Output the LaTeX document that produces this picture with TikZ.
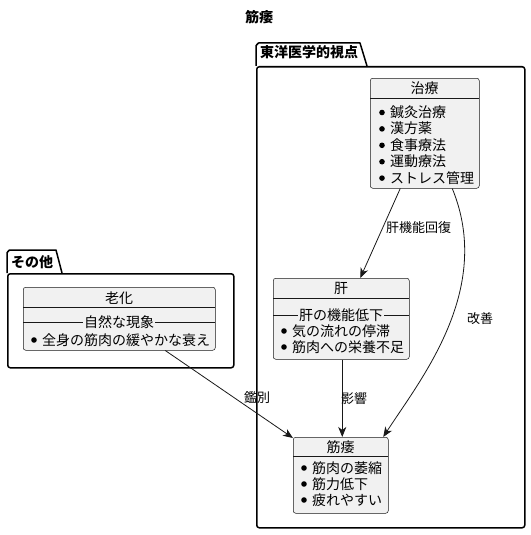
\documentclass[tikz,border=0pt]{standalone}
\usepackage{fontspec}
\setmainfont{Noto Sans CJK JP}
\usetikzlibrary{arrows.meta}
\definecolor{boxfill}{HTML}{F1F1F1}
\definecolor{boxline}{HTML}{181818}
\tikzset{
  cls/.style={draw=boxline, line width=0.5pt, fill=boxfill, rounded corners=2.5pt, inner sep=0pt, anchor=north west},
  pkg/.style={draw=black, line width=1.5pt, rounded corners=2.5pt, inner sep=0pt, anchor=north west},
  txt/.style={inner sep=0pt, font=\fontsize{14}{16}\selectfont},
  lbl/.style={inner sep=0pt, font=\fontsize{13}{15}\selectfont},
  ttl/.style={inner sep=0pt, font=\fontsize{14}{16}\selectfont\bfseries},
  arr/.style={draw=boxline, line width=0.8pt, -{Stealth[length=10pt,width=8pt,inset=3pt]}},
  sepl/.style={draw=boxline, line width=0.5pt},
  bul/.style={fill=black}
}
\newcommand\itm[4]{% name, x, y-center, text
  \fill[bul] (#2-8,#3) circle (2.8);
  \node[txt, anchor=base west] (#1) at (#2,#3+5) {#4};
}
\begin{document}
\begin{tikzpicture}[x=1pt,y=-1pt]
\useasboundingbox (0,0) rectangle (530,535);
% title
\node[ttl, anchor=base] (title) at (259,23) {筋痿};

% package 東洋医学的視点
\draw[line width=1.5pt, line join=round] (256,66) -- (256,45.5) to[out=-90,in=180] (258.5,43) -- (360,43) -- (367,66);
\node[pkg, minimum width=268pt, minimum height=461pt] (toyo) at (256,66) {};
\node[ttl, anchor=base west] (toyolbl) at (260,58) {東洋医学的視点};

% package その他
\draw[line width=1.5pt, line join=round] (7,273) -- (7,252.5) to[out=-90,in=180] (9.5,250) -- (56,250) -- (62,273);
\node[pkg, minimum width=226pt, minimum height=94pt] (sonota) at (7,273) {};
\node[ttl, anchor=base west] (sonotalbl) at (11,267) {その他};

% 治療
\node[cls, minimum width=109pt, minimum height=110pt] (chiryo) at (370,78) {};
\node[txt, anchor=base] (chiryoT) at (424.5,93) {治療};
\draw[sepl] (370,98) -- (479,98);
\itm{c1}{390}{112.5}{鍼灸治療}
\itm{c2}{390}{128.9}{漢方薬}
\itm{c3}{390}{145.3}{食事療法}
\itm{c4}{390}{161.7}{運動療法}
\itm{c5}{390}{178.1}{ストレス管理}

% 老化
\node[cls, minimum width=192pt, minimum height=63pt] (rouka) at (23,287) {};
\node[txt, anchor=base] (roukaT) at (119,303) {老化};
\draw[sepl] (23,307) -- (215,307);
\node[txt, anchor=base, inner xsep=1pt] (roukaS) at (119,327) {自然な現象};
\draw[sepl] (23,322) -- (roukaS.west |- 0,322);
\draw[sepl] (roukaS.east |- 0,322) -- (215,322);
\itm{r1}{42}{340}{全身の筋肉の緩やかな衰え}

% 肝
\node[cls, minimum width=136pt, minimum height=81pt] (kan) at (273,278) {};
\node[txt, anchor=base] (kanT) at (341,293) {肝};
\draw[sepl] (273,298) -- (409,298);
\node[txt, anchor=base, inner xsep=1pt] (kanS) at (341,320) {肝の機能低下};
\draw[sepl] (273,315) -- (kanS.west |- 0,315);
\draw[sepl] (kanS.east |- 0,315) -- (409,315);
\itm{k1}{292}{331}{気の流れの停滞}
\itm{k2}{292}{347}{筋肉への栄養不足}

% 筋痿
\node[cls, minimum width=95pt, minimum height=76pt] (kinni) at (293,437) {};
\node[txt, anchor=base] (kinniT) at (340.5,452) {筋痿};
\draw[sepl] (293,456) -- (388,456);
\itm{m1}{312}{468}{筋肉の萎縮}
\itm{m2}{312}{484}{筋力低下}
\itm{m3}{312}{500}{疲れやすい}

% connectors
\draw[arr] ([xshift=-24.5pt]chiryo.south) -- ([xshift=19pt]kan.north);
\node[lbl, anchor=base west] (l1) at (386,232) {肝機能回復};

\draw[arr] ([xshift=27.5pt]chiryo.south) .. controls (494,290) and (420,380) .. ([xshift=42.5pt]kinni.north);
\node[lbl, anchor=base] (l2) at (480,323) {改善};

\draw[arr] ([xshift=1pt]kan.south) -- ([xshift=1pt]kan.south |- kinni.north);
\node[lbl, anchor=base west] (l3) at (341,403) {影響};

\draw[arr] ([xshift=46pt]rouka.south) -- ([yshift=-1pt]kinni.north west);
\node[lbl, anchor=base] (l4) at (257,402) {鑑別};
\end{tikzpicture}
\end{document}
